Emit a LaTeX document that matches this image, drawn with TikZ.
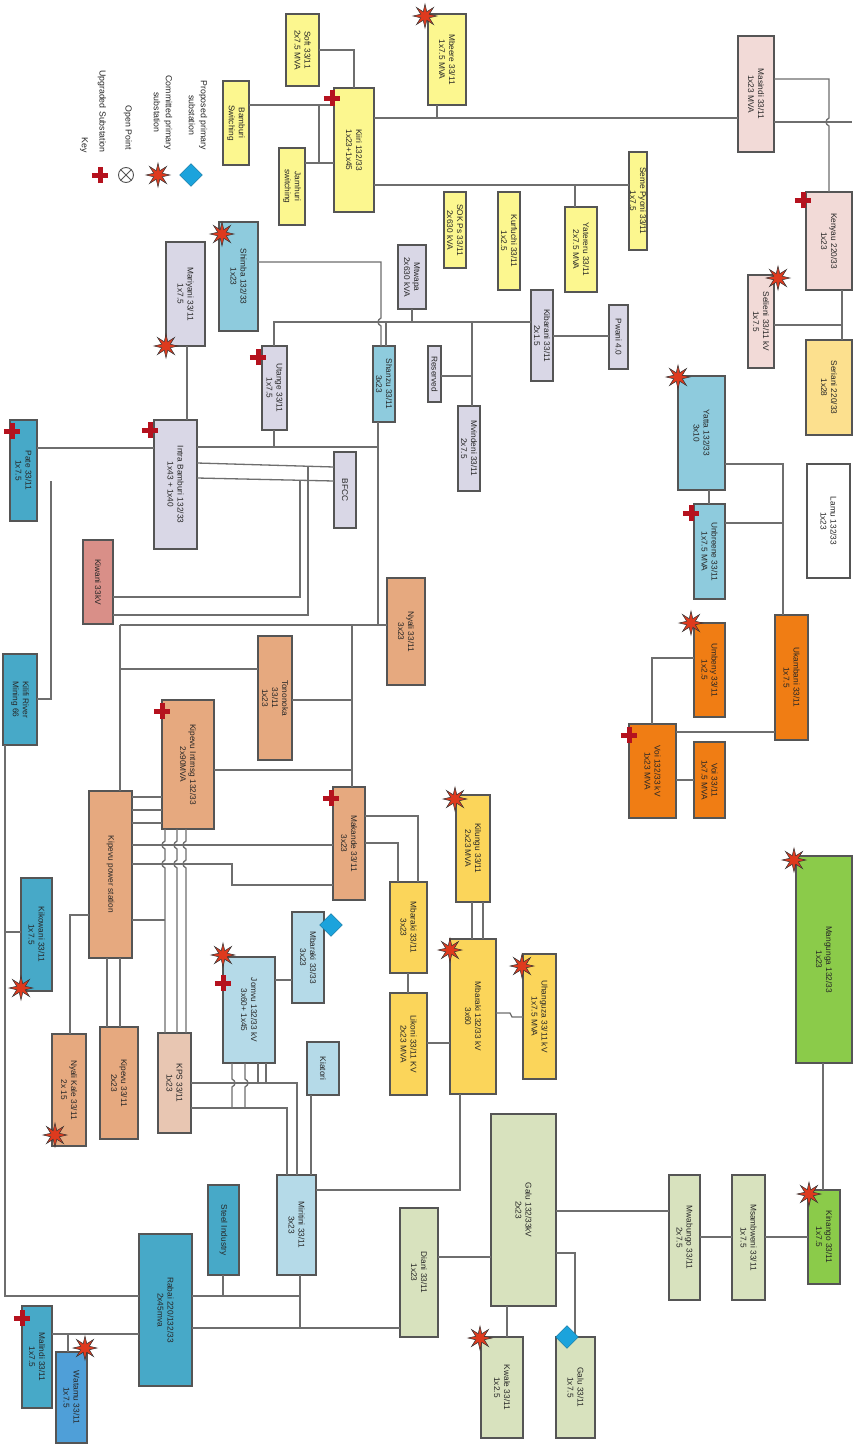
\documentclass[tikz,border=0pt]{standalone}
\usepackage{fontspec}
\setmainfont{Liberation Sans}
\usetikzlibrary{shapes.geometric,shapes.misc}
\definecolor{cyel}{HTML}{FCF78F}
\definecolor{cgold}{HTML}{FBD55A}
\definecolor{csand}{HTML}{FCE08E}
\definecolor{clav}{HTML}{D9D7E6}
\definecolor{cblue}{HTML}{8ECBDD}
\definecolor{cpale}{HTML}{B5DAE8}
\definecolor{cteal}{HTML}{47A9C8}
\definecolor{csea}{HTML}{4F9FD8}
\definecolor{cpink}{HTML}{F2DAD7}
\definecolor{cpeach}{HTML}{E6A97F}
\definecolor{cskin}{HTML}{E8C6B2}
\definecolor{crose}{HTML}{D98F88}
\definecolor{corange}{HTML}{F07D14}
\definecolor{cgreen}{HTML}{8BCB4A}
\definecolor{csage}{HTML}{D8E2BE}
\definecolor{cedge}{HTML}{555555}
\definecolor{cline}{HTML}{6E6E6E}
\definecolor{cstar}{HTML}{DE3A1E}
\definecolor{cplus}{HTML}{B5121E}
\definecolor{cdia}{HTML}{1BA3DC}
\tikzset{
  boxst/.style={draw=cedge,line width=1.3pt,inner sep=0pt,outer sep=0pt},
  textst/.style={rotate=-90,align=center,inner sep=0pt,text=black!85,font=\fontsize{8.3}{10}\selectfont},
  ln/.style={draw=cline,line width=1.3pt},
  starst/.style={star,star points=8,star point ratio=2.6,minimum size=24pt,inner sep=0pt,fill=cstar,draw=black!80,line width=0.5pt},
  plusst/.style={cross out,rotate=45,draw=cplus,line width=5pt,minimum size=6.5pt,inner sep=0pt},
  diast/.style={diamond,aspect=1,minimum size=23pt,inner sep=0pt,fill=cdia,draw=cdia!70!black,line width=0.4pt},
  keyst/.style={rotate=-90,anchor=east,align=center,inner sep=0pt,text=black!85,font=\fontsize{8.8}{12}\selectfont},
}
\newcommand{\mkbox}[7]{\node[boxst,fill=#6,minimum width={(#4-#2)*1pt},minimum height={(#5-#3)*1pt}] (#1) at ({(#2+#4)/2},{(#3+#5)/2}) {};\node[textst] (#1t) at (#1.center) {#7};}
\newcommand{\mkstar}[3]{\node[starst] (#1) at (#2,#3) {};}
\newcommand{\mkplus}[3]{\node[plusst] (#1) at (#2,#3) {};}
\newcommand{\mkdia}[3]{\node[diast] (#1) at (#2,#3) {};}
\begin{document}
\begin{tikzpicture}[x=1pt,y=-1pt]
\useasboundingbox (0,0) rectangle (852,1446);
\fill[white] (0,0) rectangle (852,1446);
% boxes
\mkbox{soft}{286}{14}{319}{86}{cyel}{Soft 33/11\\2x7.5 MVA}
\mkbox{bamb}{223}{81}{249}{165}{cyel}{Bamburi\\Switching}
\mkbox{kiiri}{334}{88}{374}{212}{cyel}{Kiiri 132/33\\1x23+1x45}
\mkbox{jamh}{279}{148}{305}{225}{cyel}{Jamhuri\\switching}
\mkbox{mbee}{428}{14}{466}{105}{cyel}{Mbeere 33/11\\1x7.5 MVA}
\mkbox{shim}{219}{222}{258}{331}{cblue}{Shimba 132/33\\1x23}
\mkbox{mari}{166}{242}{205}{346}{clav}{Mariyani 33/11\\1x7.5}
\mkbox{mtwa}{398}{245}{426}{309}{clav}{Mtwapa\\2x630 kVA}
\mkbox{utan}{262}{346}{287}{430}{clav}{Utange 33/11\\1x7.5}
\mkbox{shan}{373}{346}{395}{422}{cblue}{Shanzu 33/11\\3x23}
\mkbox{resv}{428}{346}{441}{402}{clav}{Reserved}
\mkbox{masi}{738}{36}{774}{152}{cpink}{Masindi 33/11\\1x23 MVA}
\mkbox{seme}{629}{152}{647}{250}{cyel}{Seme Pyoni 33/11\\1x7.5}
\mkbox{soks}{444}{192}{466}{268}{cyel}{SOK Ps 33/11\\2x630 kVA}
\mkbox{kurf}{498}{192}{520}{290}{cyel}{Kurfuchi 33/11\\1x2.5}
\mkbox{yate}{565}{207}{597}{292}{cyel}{Yatereru 33/11\\2x7.5 MVA}
\mkbox{keny}{806}{192}{852}{290}{cpink}{Kenyau 220/33\\1x23}
\mkbox{seli}{748}{275}{774}{368}{cpink}{Selieni 33/11 kV\\1x7.5}
\mkbox{kiba}{531}{290}{553}{381}{clav}{Kibarani 33/11\\2x1.5}
\mkbox{puan}{609}{305}{628}{369}{clav}{Pwani 4.0}
\mkbox{seri}{806}{340}{852}{435}{csand}{Seriani 220/33\\1x28}
\mkbox{pate}{10}{420}{37}{521}{cteal}{Pate 33/11\\1x7.5}
\mkbox{intr}{154}{420}{197}{549}{clav}{Intra Bamburi 132/33\\1x43 + 1x40}
\mkbox{bfcc}{334}{452}{356}{528}{clav}{BFCC}
\mkbox{salm}{83}{540}{113}{624}{crose}{Kiwani 33kV}
\mkbox{nyal}{387}{578}{425}{685}{cpeach}{Nyali 33/11\\3x23}
\mkbox{kili}{3}{654}{37}{745}{cteal}{Kilifi River\\Mining 66}
\mkbox{tono}{258}{636}{292}{760}{cpeach}{Tononoka\\33/11\\1x23}
\mkbox{kp1}{162}{700}{214}{829}{cpeach}{Kipevu Intrnsg 132/33\\2x90MVA}
\mkbox{mvin}{458}{406}{480}{491}{clav}{Mvindeni 33/11\\2x7.5}
\mkbox{yatn}{678}{376}{725}{490}{cblue}{Yatta 132/33\\3x10}
\mkbox{unde}{694}{504}{725}{599}{cblue}{Unbreene 33/11\\1x7.5 MVA}
\mkbox{umba}{694}{623}{725}{717}{corange}{Umbeny 33/11\\1x2.5}
\mkbox{ukam}{775}{615}{808}{740}{corange}{Ukambani 33/11\\1x7.5}
\mkbox{lamu}{807}{464}{850}{578}{white}{Lamu 132/33\\1x23}
\mkbox{kpp}{89}{791}{132}{958}{cpeach}{Kipevu power station}
\mkbox{kp2}{333}{787}{365}{900}{cpeach}{Makande 33/11\\3x23}
\mkbox{kiem}{21}{878}{52}{991}{cteal}{Kikowani 33/11\\1x7.5}
\mkbox{mbar}{390}{882}{427}{973}{cgold}{Mbaraki 33/11\\3x23}
\mkbox{mbsw}{292}{912}{324}{1003}{cpale}{Mbaraki 33/33\\3x23}
\mkbox{jomv}{223}{957}{275}{1063}{cpale}{Jomvu 132/33 kV\\3x60+ 1x45}
\mkbox{likn}{390}{993}{427}{1095}{cgold}{Likoni 33/11 KV\\2x23 MVA}
\mkbox{nyum}{52}{1034}{86}{1146}{cpeach}{Nyali Kale 33/11\\2x 15}
\mkbox{kp3}{100}{1027}{138}{1139}{cpeach}{Kipevu 33/11\\2x23}
\mkbox{kps}{158}{1033}{191}{1133}{cskin}{KPS 33/11\\1x23}
\mkbox{kiat}{307}{1042}{339}{1095}{cpale}{Kiatori}
\mkbox{voi1}{629}{724}{676}{818}{corange}{Voi 132/33 kV\\1x23 MVA}
\mkbox{voi2}{694}{742}{725}{818}{corange}{Voi 33/11\\1x7.5 MVA}
\mkbox{kili2}{456}{795}{490}{902}{cgold}{Kilungu 33/11\\2x23 MVA}
\mkbox{mbig}{450}{939}{496}{1094}{cgold}{Mbaraki 132/33 kV\\3x60}
\mkbox{uhur}{523}{954}{556}{1079}{cgold}{Uhanguza 33/11 kV\\1x7.5 MVA}
\mkbox{gree}{796}{856}{852}{1063}{cgreen}{Mangunga 132/33\\1x23}
\mkbox{miri}{277}{1175}{316}{1275}{cpale}{Miritini 33/11\\3x23}
\mkbox{teal}{208}{1185}{239}{1275}{cteal}{Steel Industry}
\mkbox{raba}{139}{1234}{192}{1386}{cteal}{Rabai 220/132/33\\2x45mva}
\mkbox{malu}{22}{1306}{52}{1408}{cteal}{Malindi 33/11\\1x7.5}
\mkbox{wate}{56}{1352}{87}{1443}{csea}{Watamu 33/11\\1x7.5}
\mkbox{eli}{400}{1208}{438}{1337}{csage}{Diani 33/11\\1x23}
\mkbox{galu}{491}{1114}{556}{1306}{csage}{Galu 132/33kV\\2x23}
\mkbox{mdun}{669}{1175}{700}{1300}{csage}{Mwabungo 33/11\\2x7.5}
\mkbox{mach}{732}{1175}{765}{1300}{csage}{Msambweni 33/11\\1x7.5}
\mkbox{kinu}{808}{1190}{840}{1284}{cgreen}{Kinango 33/11\\1x7.5}
\mkbox{kwal}{481}{1337}{523}{1438}{csage}{Kwale 33/11\\1x2.5}
\mkbox{gal3}{556}{1337}{595}{1438}{csage}{Galu 33/11\\1x7.5}
% junction coordinates
\coordinate (jk) at (319,105);
\coordinate (jm) at (437,118);
\coordinate (jy) at (575,185);
\coordinate (bw) at (274,322);
\coordinate (be) at (472,322);
\coordinate (jn) at (412,322);
\coordinate (js) at (386,322);
\coordinate (ji) at (274,447);
\coordinate (js2) at (378,447);
\coordinate (bn) at (120,625);
\coordinate (bn2) at (352,625);
\coordinate (jt) at (120,669);
\coordinate (ju) at (352,700);
\coordinate (jv) at (352,770);
\coordinate (jp) at (165,920);
\coordinate (l2) at (5,932);
\coordinate (jr) at (223,1296);
\coordinate (jq) at (300,1296);
\coordinate (jq2) at (300,1328);
\coordinate (jl) at (68,1334);
\coordinate (jd) at (783,464);
\coordinate (jc) at (842,325);
\coordinate (je) at (472,376);
\coordinate (jh) at (783,523);
\coordinate (jf) at (51,481);
\coordinate (jx) at (300,481);
\coordinate (jw) at (308,467);
\coordinate (jy2) at (319,163);
\coordinate (jb1) at (266,1083);
\coordinate (jb2) at (258,1083);
% connectors
\draw[ln] (soft.east |- 0,50) -- (354,50) -- (kiiri.north -| 354,0);
\draw[ln] (bamb.east |- 0,105) -- (kiiri.west |- 0,105);
\draw[ln] (jk) -- (jy2);
\draw[ln] (jamh.east |- 0,163) -- (kiiri.west |- 0,163);
\draw[ln] (kiiri.east |- 0,118) -- (masi.west |- 0,118);
\draw[ln] (mbee.south -| jm) -- (jm);
\draw[ln] (kiiri.east |- 0,185) -- (seme.west |- 0,185);
\draw[ln] (jy) -- (yate.north -| jy);
\draw[ln] (masi.east |- 0,79) -- (829,79) -- (829,118) .. controls (825,120) and (825,124) .. (829,126) -- (keny.north -| 829,0);
\draw[ln] (masi.east |- 0,122) -- (keny.east |- 0,122);
\draw[ln] (keny.south -| jc) -- (seri.north -| jc);
\draw[ln] (seli.east |- jc) -- (jc);
\draw[ln] (shim.east |- 0,262) -- (381,262) -- (381,318) .. controls (377,320) and (377,324) .. (381,326) -- (shan.north -| 381,0);
\draw[ln] (utan.north -| bw) -- (bw) -- (kiba.west |- bw);
\draw[ln] (mtwa.south -| jn) -- (jn);
\draw[ln] (js) -- (shan.north -| js);
\draw[ln] (be) -- (mvin.north -| be);
\draw[ln] (resv.east |- je) -- (je);
\draw[ln] (kiba.east |- 0,336) -- (puan.west |- 0,336);
\draw[ln] (mari.south -| 187,0) -- (intr.north -| 187,0);
\draw[ln] (pate.east |- 0,448) -- (intr.west |- 0,448);
\draw[ln] (intr.east |- 0,447) -- (js2);
\draw[ln] (shan.south -| 378,0) -- (378,625);
\draw[ln] (ji) -- (utan.south -| ji);
\draw[ln] (intr.east |- 0,463) -- (bfcc.west |- 0,467);
\draw[ln] (intr.east |- 0,478) -- (bfcc.west |- 0,481);
\draw[ln] (salm.east |- 0,597) -- (300,597) -- (jx);
\draw[ln] (salm.east |- 0,615) -- (308,615) -- (jw);
\draw[ln] (kili.east |- 0,699) -- (51,699) -- (jf);
\draw[ln] (bn) -- (nyal.west |- bn);
\draw[ln] (bn) -- (kpp.north -| bn);
\draw[ln] (jt) -- (tono.west |- jt);
\draw[ln] (bn2) -- (kp2.north -| bn2);
\draw[ln] (tono.east |- ju) -- (ju);
\draw[ln] (kp1.east |- jv) -- (jv);
\foreach \yy in {797,810,823} \draw[ln] (kpp.east |- 0,\yy) -- (kp1.west |- 0,\yy);
\foreach \xx in {165,177,186}
  \draw[ln] (kp1.south -| \xx,0) -- (\xx,841) .. controls ({\xx-4},843) and ({\xx-4},847) .. (\xx,849) -- (\xx,860) .. controls ({\xx-4},862) and ({\xx-4},866) .. (\xx,868) -- (kps.north -| \xx,0);
\draw[ln] (kpp.east |- 0,845) -- (kp2.west |- 0,845);
\draw[ln] (kpp.east |- 0,864) -- (232,864) -- (232,885) -- (kp2.west |- 0,885);
\draw[ln] (kpp.east |- jp) -- (jp);
\draw[ln] (kpp.west |- 0,915) -- (70,915) -- (nyum.north -| 70,0);
\draw[ln] (kpp.south -| 107,0) -- (kp3.north -| 107,0);
\draw[ln] (kpp.south -| 120,0) -- (kp3.north -| 120,0);
\draw[ln] (kp2.east |- 0,816) -- (418,816) -- (mbar.north -| 418,0);
\draw[ln] (kp2.east |- 0,843) -- (398,843) -- (mbar.north -| 398,0);
\draw[ln] (mbar.south -| 408,0) -- (likn.north -| 408,0);
\draw[ln] (kiem.west |- l2) -- (l2);
\draw[ln] (kili.south -| 5,0) -- (5,1296) -- (raba.west |- 0,1296);
\draw[ln] (jomv.east |- 0,980) -- (mbsw.west |- 0,980);
\foreach \xx in {232,245}
  \draw[ln] (jomv.south -| \xx,0) -- (\xx,1079) .. controls ({\xx+4},1081) and ({\xx+4},1085) .. (\xx,1087) -- (\xx,1108);
\draw[ln] (jomv.south -| jb2) -- (jb2);
\draw[ln] (jomv.south -| jb1) -- (jb1);
\draw[ln] (kps.east |- 0,1083) -- (297,1083) -- (miri.north -| 297,0);
\draw[ln] (kps.east |- 0,1108) -- (287,1108) -- (miri.north -| 287,0);
\draw[ln] (kiat.south -| 311,0) -- (miri.north -| 311,0);
\draw[ln] (miri.east |- 0,1190) -- (460,1190) -- (mbig.south -| 460,0);
\draw[ln] (teal.south -| jr) -- (jr);
\draw[ln] (raba.east |- jq) -- (jq);
\draw[ln] (miri.south -| jq) -- (jq2);
\draw[ln] (raba.east |- jq2) -- (eli.west |- jq2);
\draw[ln] (malu.east |- jl) -- (raba.west |- jl);
\draw[ln] (jl) -- (wate.north -| jl);
\draw[ln] (eli.east |- 0,1257) -- (galu.west |- 0,1257);
\draw[ln] (galu.east |- 0,1211) -- (mdun.west |- 0,1211);
\draw[ln] (galu.east |- 0,1253) -- (575,1253) -- (gal3.north -| 575,0);
\draw[ln] (galu.south -| 507,0) -- (kwal.north -| 507,0);
\draw[ln] (mdun.east |- 0,1237) -- (mach.west |- 0,1237);
\draw[ln] (mach.east |- 0,1237) -- (kinu.west |- 0,1237);
\draw[ln] (gree.south -| 823,0) -- (kinu.north -| 823,0);
\draw[ln] (kili2.south -| 472,0) -- (mbig.north -| 472,0);
\draw[ln] (kili2.south -| 483,0) -- (mbig.north -| 483,0);
\draw[ln] (mbig.east |- 0,1013) -- (510,1013) -- (512,1017) -- (uhur.west |- 0,1017);
\draw[ln] (likn.east |- 0,1043) -- (mbig.west |- 0,1043);
\draw[ln] (yatn.south -| 709,0) -- (unde.north -| 709,0);
\draw[ln] (yatn.east |- jd) -- (jd) -- (ukam.north -| jd);
\draw[ln] (unde.east |- jh) -- (jh);
\draw[ln] (umba.west |- 0,658) -- (652,658) -- (voi1.north -| 652,0);
\draw[ln] (voi1.east |- 0,732) -- (ukam.west |- 0,732);
\draw[ln] (voi1.east |- 0,780) -- (voi2.west |- 0,780);
% markers
\mkplus{p0}{100}{175}\mkplus{p1}{332}{98}\mkplus{p2}{258}{357}\mkplus{p3}{150}{430}\mkplus{p4}{12}{431}
\mkplus{p5}{162}{711}\mkplus{p6}{331}{798}\mkplus{p7}{223}{983}\mkplus{p8}{22}{1318}\mkplus{p9}{803}{200}
\mkplus{p10}{691}{513}\mkplus{p11}{629}{735}
\mkstar{s0}{158}{175}\mkstar{s1}{425}{16}\mkstar{s2}{222}{234}\mkstar{s3}{166}{346}\mkstar{s4}{21}{988}
\mkstar{s5}{223}{955}\mkstar{s6}{455}{799}\mkstar{s7}{450}{950}\mkstar{s8}{522}{966}\mkstar{s9}{794}{860}
\mkstar{s10}{809}{1194}\mkstar{s11}{778}{278}\mkstar{s12}{678}{377}\mkstar{s13}{691}{623}\mkstar{s14}{55}{1135}
\mkstar{s15}{85}{1348}\mkstar{s16}{480}{1338}
\mkdia{d0}{191}{175}\mkdia{d1}{331}{925}\mkdia{d2}{567}{1337}
\node[circle,draw=cedge,line width=0.9pt,minimum size=15pt,inner sep=0pt] (o0) at (126,175) {};
\draw[draw=cedge,line width=0.9pt] (o0.45) -- (o0.225) (o0.135) -- (o0.315);
% legend text
\node[keyst] (key) at (84,153) {Key};
\node[keyst] (k1) at (102,153) {Upgraded Substation};
\node[keyst] (k2) at (128,150) {Open Point};
\node[keyst] (k3) at (163,150) {Committed primary\\substation};
\node[keyst] (k4) at (198,150) {Proposed primary\\substation};
\end{tikzpicture}
\end{document}
